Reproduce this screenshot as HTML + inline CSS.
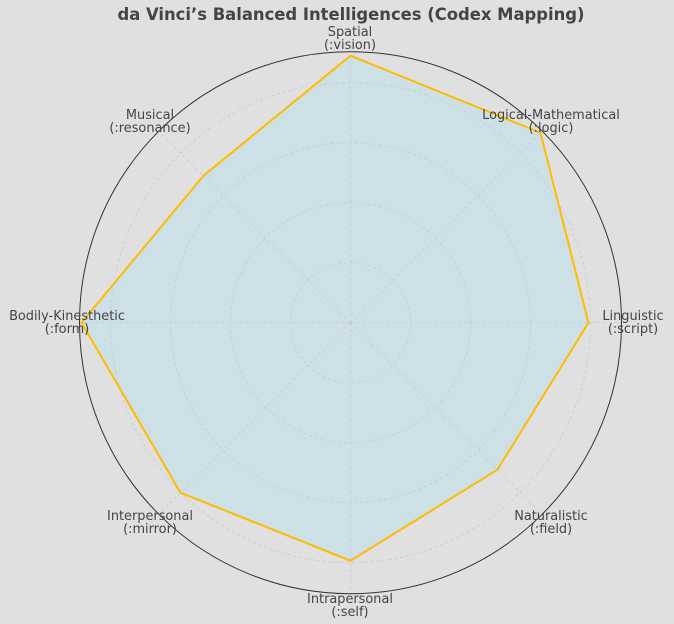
<!DOCTYPE html>
<html><head><style>
html,body{margin:0;padding:0;background:#e0e0e0;}
svg{display:block;}
text{font-family:"DejaVu Sans","Liberation Sans",sans-serif;fill:#444;}
</style></head><body>
<svg width="674" height="624" viewBox="0 0 674 624" xmlns="http://www.w3.org/2000/svg">
<rect width="674" height="624" fill="#e0e0e0"/>
<text x="351" y="20" text-anchor="middle" font-size="16.4" font-weight="bold">da Vinci’s Balanced Intelligences (Codex Mapping)</text>
<g transform="translate(350.5,322.7)">
<polygon points="0,-267 190,-190 238,0 147,147 0,238 -170,170 -269,0 -147,-147" fill="#cde0e6"/>
<g fill="none" stroke="#c2c8cb" stroke-width="0.7" stroke-dasharray="3,3">
<circle r="60"/><circle r="120"/><circle r="180"/><circle r="240"/>
<line x1="0" y1="0" x2="0" y2="-271"/><line x1="0" y1="0" x2="191.6" y2="-191.6"/>
<line x1="0" y1="0" x2="271" y2="0"/><line x1="0" y1="0" x2="191.6" y2="191.6"/>
<line x1="0" y1="0" x2="0" y2="271"/><line x1="0" y1="0" x2="-191.6" y2="191.6"/>
<line x1="0" y1="0" x2="-271" y2="0"/><line x1="0" y1="0" x2="-191.6" y2="-191.6"/>
</g>
<circle r="271" fill="none" stroke="#333" stroke-width="1"/>
<polygon points="0,-267 190,-190 238,0 147,147 0,238 -170,170 -269,0 -147,-147" fill="none" stroke="#ffbb00" stroke-width="2"/>
</g>
<g font-size="12.9" text-anchor="middle">
<text x="350" y="36">Spatial</text><text x="350" y="49">(:vision)</text>
<text x="551" y="119">Logical-Mathematical</text><text x="551" y="132">(:logic)</text>
<text x="633" y="320">Linguistic</text><text x="633" y="333">(:script)</text>
<text x="551" y="520">Naturalistic</text><text x="551" y="533">(:field)</text>
<text x="350" y="603">Intrapersonal</text><text x="350" y="616">(:self)</text>
<text x="150" y="520">Interpersonal</text><text x="150" y="533">(:mirror)</text>
<text x="67" y="320">Bodily-Kinesthetic</text><text x="67" y="333">(:form)</text>
<text x="150" y="119">Musical</text><text x="150" y="132">(:resonance)</text>
</g>
</svg>
</body></html>
